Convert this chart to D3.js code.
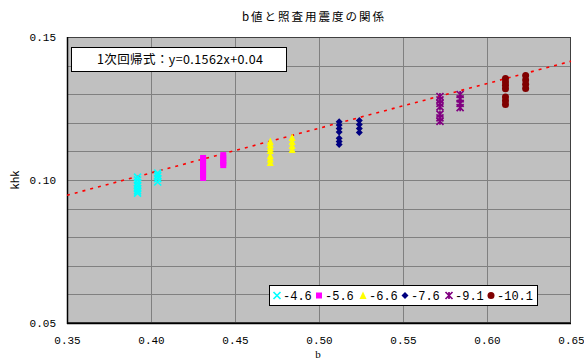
<!DOCTYPE html>
<html>
<head>
<meta charset="utf-8">
<script src="https://cdn.jsdelivr.net/npm/d3@7"></script>
<style>
  html, body { margin: 0; padding: 0; background: #fff; }
</style>
</head>
<body>
<svg id="chart" width="584" height="364"></svg>
<script>
// Seismic intensity (khk) versus b value, grouped by series
const seriesNames = ["-4.6", "-5.6", "-6.6", "-7.6", "-9.1", "-10.1"];
const seriesColors = ["#00ffff", "#ff00ff", "#ffff00", "#000080", "#800080", "#800000"];
const seriesShapes = ["x", "square", "triangle", "diamond", "star", "circle"];

const pts46 = [
  [0.392, 0.1010], [0.392, 0.1000], [0.392, 0.0990], [0.392, 0.0980], [0.392, 0.0970], [0.392, 0.0962], [0.392, 0.0954],
  [0.404, 0.1024], [0.404, 0.1015], [0.404, 0.1005], [0.404, 0.0993]
];
const pts56 = [
  [0.431, 0.1077], [0.431, 0.1068], [0.431, 0.1058], [0.431, 0.1048], [0.431, 0.1038], [0.431, 0.1028], [0.431, 0.1018], [0.431, 0.1007],
  [0.443, 0.1087], [0.443, 0.1078], [0.443, 0.1068], [0.443, 0.1060], [0.443, 0.1052]
];
const pts66 = [
  [0.471, 0.1135], [0.471, 0.1124], [0.471, 0.1113], [0.471, 0.1103], [0.471, 0.1085], [0.471, 0.1073], [0.471, 0.1061],
  [0.484, 0.1149], [0.484, 0.1135], [0.484, 0.1121], [0.484, 0.1107]
];
const pts76 = [
  [0.512, 0.1204], [0.512, 0.1192], [0.512, 0.1180], [0.512, 0.1168], [0.512, 0.1146], [0.512, 0.1135], [0.512, 0.1124],
  [0.524, 0.1208], [0.524, 0.1194], [0.524, 0.1180], [0.524, 0.1166]
];
const pts91 = [
  [0.572, 0.1292], [0.572, 0.1280], [0.572, 0.1268], [0.572, 0.1256], [0.572, 0.1230], [0.572, 0.1217], [0.572, 0.1205],
  [0.584, 0.1299], [0.584, 0.1284], [0.584, 0.1268], [0.584, 0.1253]
];
const pts101 = [
  [0.611, 0.1355], [0.611, 0.1343], [0.611, 0.1331], [0.611, 0.1319], [0.611, 0.1290], [0.611, 0.1277], [0.611, 0.1264],
  [0.623, 0.1365], [0.623, 0.1350], [0.623, 0.1335], [0.623, 0.1320]
];
const seriesPoints = [pts46, pts56, pts66, pts76, pts91, pts101];

// Linear fit y = 0.1562x + 0.04
const fitSlope = 0.1562;
const fitIntercept = 0.04;

const xTicks = [0.35, 0.40, 0.45, 0.50, 0.55, 0.60, 0.65];
const yTicks = [0.05, 0.10, 0.15];
const yGrid = [0.06, 0.07, 0.08, 0.09, 0.10, 0.11, 0.12, 0.13, 0.14];

const jpFont = "'Noto Sans CJK JP', 'DejaVu Sans', sans-serif";
const monoFont = "'Liberation Mono', 'DejaVu Sans Mono', monospace";

const svg = d3.select("#chart").style("font-family", jpFont);
const plot = { left: 67, right: 571, top: 37, bottom: 323 };

const x = d3.scaleLinear().domain([0.35, 0.65]).range([plot.left, plot.right]);
const y = d3.scaleLinear().domain([0.05, 0.15]).range([plot.bottom, plot.top]);

// Plot background
svg.append("rect")
  .attr("x", plot.left).attr("y", plot.top)
  .attr("width", plot.right - plot.left).attr("height", plot.bottom - plot.top)
  .attr("fill", "#c0c0c0");

// Grid lines
svg.append("g").selectAll("line").data(yGrid).join("line")
  .attr("x1", plot.left).attr("x2", plot.right)
  .attr("y1", d => Math.round(y(d)) + 0.5).attr("y2", d => Math.round(y(d)) + 0.5)
  .attr("stroke", "#808080").attr("stroke-width", 1);
svg.append("g").selectAll("line").data(xTicks.slice(1, -1)).join("line")
  .attr("x1", d => Math.round(x(d)) + 0.5).attr("x2", d => Math.round(x(d)) + 0.5)
  .attr("y1", plot.top).attr("y2", plot.bottom)
  .attr("stroke", "#808080").attr("stroke-width", 1);

// Frame
svg.append("rect")
  .attr("x", plot.left + 0.5).attr("y", plot.top + 0.5)
  .attr("width", plot.right - plot.left - 1).attr("height", plot.bottom - plot.top - 1)
  .attr("fill", "none").attr("stroke", "#404040").attr("stroke-width", 1);
svg.append("line")
  .attr("x1", plot.left + 0.5).attr("x2", plot.left + 0.5)
  .attr("y1", plot.top).attr("y2", plot.bottom + 1)
  .attr("stroke", "#000").attr("stroke-width", 1.5);
svg.append("line")
  .attr("x1", plot.left).attr("x2", plot.right)
  .attr("y1", plot.bottom + 0.5).attr("y2", plot.bottom + 0.5)
  .attr("stroke", "#000").attr("stroke-width", 1.5);

// Axes (labels only; the frame carries the lines)
const xAxis = svg.append("g")
  .attr("transform", `translate(0,${plot.bottom})`)
  .call(d3.axisBottom(x).tickValues(xTicks).tickFormat(d3.format(".2f")).tickSize(0).tickPadding(13));
xAxis.select(".domain").remove();
xAxis.selectAll("text").style("font-size", "11px").style("font-family", monoFont).attr("fill", "#000");

const yAxis = svg.append("g")
  .attr("transform", `translate(${plot.left},0)`)
  .call(d3.axisLeft(y).tickValues(yTicks).tickFormat(d3.format(".2f")).tickSize(0).tickPadding(11));
yAxis.select(".domain").remove();
yAxis.selectAll("text").style("font-size", "11px").style("font-family", monoFont).attr("fill", "#000");

// Titles
svg.append("text")
  .attr("x", 313).attr("y", 21)
  .attr("text-anchor", "middle").style("font-size", "11.5px")
  .attr("textLength", 142).attr("lengthAdjust", "spacing")
  .text("b値と照査用震度の関係");
svg.append("text")
  .attr("x", 318).attr("y", 358)
  .attr("text-anchor", "middle").style("font-size", "11px")
  .style("font-family", "'Liberation Serif', serif")
  .text("b");
svg.append("text")
  .attr("transform", "translate(19,180) rotate(-90)")
  .attr("text-anchor", "middle").style("font-size", "11px")
  .text("khk");

// Trend line
const fitLine = d3.line().x(d => x(d)).y(d => y(fitSlope * d + fitIntercept));
svg.append("path")
  .datum([0.35, 0.65])
  .attr("d", fitLine)
  .attr("fill", "none").attr("stroke", "#ff0000").attr("stroke-width", 1.6)
  .attr("stroke-dasharray", "3,5");

// Marker drawing
function drawMarker(g, shape, color, size) {
  const h = size / 2;
  if (shape === "x") {
    g.append("path").attr("d", `M${-h},${-h}L${h},${h}M${-h},${h}L${h},${-h}`)
      .attr("stroke", color).attr("stroke-width", 1.7).attr("fill", "none");
  } else if (shape === "square") {
    g.append("rect").attr("x", -h + 0.5).attr("y", -h + 0.5).attr("width", size - 1).attr("height", size - 1)
      .attr("fill", color);
  } else if (shape === "triangle") {
    g.append("path").attr("d", `M0,${-h - 0.5}L${h},${h}L${-h},${h}Z`).attr("fill", color);
  } else if (shape === "diamond") {
    g.append("path").attr("d", `M0,${-h}L${h},0L0,${h}L${-h},0Z`).attr("fill", color);
  } else if (shape === "star") {
    g.append("path").attr("d", `M${-h},${-h}L${h},${h}M${-h},${h}L${h},${-h}M0,${-h}L0,${h}`)
      .attr("stroke", color).attr("stroke-width", 1.7).attr("fill", "none");
  } else if (shape === "circle") {
    g.append("circle").attr("r", h).attr("fill", color);
  }
}

// Data points
seriesPoints.forEach((pts, i) => {
  const grp = svg.append("g");
  pts.forEach(p => {
    const g = grp.append("g").attr("transform", `translate(${x(p[0])},${y(p[1])})`);
    drawMarker(g, seriesShapes[i], seriesColors[i], 7);
  });
});

// Equation box
svg.append("rect")
  .attr("x", 71.5).attr("y", 47.5).attr("width", 215).attr("height", 24)
  .attr("fill", "#fff").attr("stroke", "#000").attr("stroke-width", 1);
svg.append("text")
  .attr("x", 180).attr("y", 64)
  .attr("text-anchor", "middle").style("font-size", "12.5px")
  .attr("textLength", 166).attr("lengthAdjust", "spacing")
  .text("1次回帰式：y=0.1562x+0.04");

// Legend
const legend = svg.append("g");
legend.append("rect")
  .attr("x", 269.5).attr("y", 285.5).attr("width", 268).attr("height", 20)
  .attr("fill", "#fff").attr("stroke", "#000").attr("stroke-width", 1);
const legendX = [277, 319, 363, 405, 449, 491];
seriesNames.forEach((name, i) => {
  const g = legend.append("g").attr("transform", `translate(${legendX[i]},295.5)`);
  drawMarker(g, seriesShapes[i], seriesColors[i], 7);
  legend.append("text")
    .attr("x", legendX[i] + 6).attr("y", 300)
    .style("font-size", "12px").style("font-family", monoFont)
    .text(name);
});
</script>
</body>
</html>
